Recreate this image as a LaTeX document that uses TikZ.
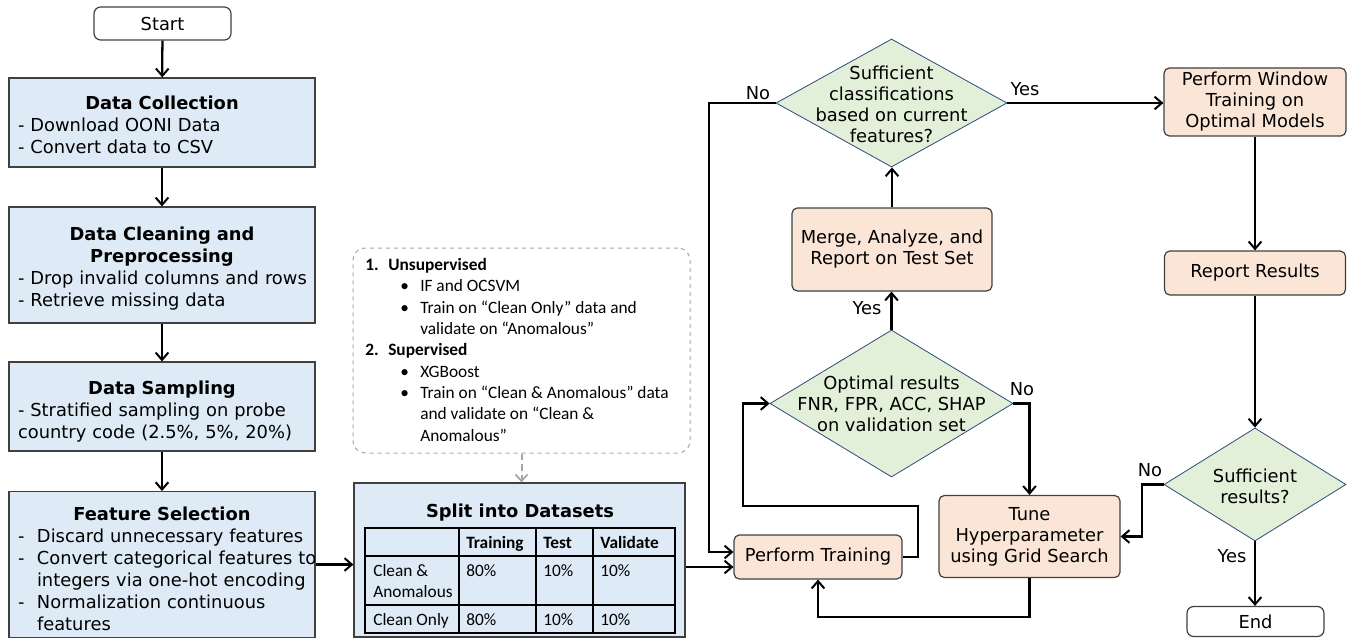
\documentclass[tikz,border=0pt]{standalone}
\usepackage{fontspec}
\setmainfont{DejaVu Sans}
\newfontfamily\calib{Carlito}
\usetikzlibrary{shapes.geometric,arrows.meta}
\definecolor{bluefill}{HTML}{DEEBF7}
\definecolor{orangefill}{HTML}{FBE5D6}
\definecolor{greenfill}{HTML}{E2F0D9}
\definecolor{boxline}{HTML}{404040}
\definecolor{dialine}{HTML}{2F4A7A}
\definecolor{dashgray}{HTML}{A6A6A6}
\begin{document}
\begin{tikzpicture}[x=0.75pt,y=-0.75pt,
  font=\fontsize{13.4}{16.2}\selectfont,
  bluebox/.style={draw=boxline,fill=bluefill,line width=0.9pt,inner xsep=6.75pt,inner ysep=0pt,text width=216pt,align=left,minimum width=229.5pt,font=\fontsize{13.4}{16.5}\selectfont},
  orbox/.style={draw=boxline,fill=orangefill,rounded corners=4pt,line width=0.9pt,align=center,inner sep=0pt,font=\fontsize{13.4}{15.75}\selectfont},
  term/.style={draw=boxline,fill=white,rounded corners=5pt,line width=0.9pt,minimum width=102.75pt,minimum height=24.75pt,inner sep=0pt},
  dia/.style={diamond,draw=dialine,fill=greenfill,line width=0.6pt,inner sep=0pt},
  diatext/.style={align=center,inner sep=0pt,font=\fontsize{13.4}{15.75}\selectfont},
  lbl/.style={inner sep=0pt},
  arr/.style={line width=1.7pt,-{Straight Barb[length=5.5pt,width=9.5pt,line width=1.5pt]}},
  cal/.style={font=\calib\fontsize{13}{16}\selectfont,inner sep=0pt,anchor=base west},
  grid/.style={line width=0.9pt,draw=black}
]
\useasboundingbox (0,0) rectangle (1348,638);

% helper coordinates
\coordinate (yA) at (0,567);
\coordinate (yB) at (0,552);
\coordinate (noX) at (709,0);
\coordinate (lx1) at (918,0);
\coordinate (ly1) at (0,506);
\coordinate (lx2) at (743,0);
\coordinate (ly2) at (0,617);
\coordinate (lx3) at (1142,0);

% left column
\node[term] (start) at (162.5,23.5) {Start};
\node[bluebox,minimum height=66.75pt] (dc) at (162,122.5)
  {{\centering\rule{0pt}{14.3pt}\bfseries Data Collection\par}\mbox{- Download OONI Data}\\\mbox{- Convert data to CSV}};
\node[bluebox,minimum height=87pt] (clean) at (162,265)
  {{\centering\rule{0pt}{15.8pt}\bfseries Data Cleaning and\\Preprocessing\par}\mbox{- Drop invalid columns and rows}\\\mbox{- Retrieve missing data}};
\node[bluebox,minimum height=66.75pt] (samp) at (162,406.5)
  {{\centering\rule{0pt}{17.3pt}\bfseries Data Sampling\par}\mbox{- Stratified sampling on probe}\\\mbox{country code (2.5\%, 5\%, 20\%)}};
\node[bluebox,minimum height=108.75pt] (feat) at (162,564.5)
  {{\centering\rule{0pt}{21.8pt}\bfseries Feature Selection\par}\begin{tabular}[t]{@{}p{14.25pt}@{}l@{}}
   -&Discard unnecessary features\\
   -&Convert categorical features to\\
   &integers via one-hot encoding\\
   -&Normalization continuous\\
   &features
   \end{tabular}};

% dashed note box
\node[draw=dashgray,dashed,line width=0.75pt,rounded corners=9pt,minimum width=252.75pt,minimum height=153.75pt,inner sep=0pt] (note) at (521.5,350.5) {};
\node[cal,anchor=north west,align=left] (notetext) at (365,258)
  {\makebox[17.25pt][l]{\bfseries 1.}\textbf{Unsupervised}\\
   \makebox[26.25pt]{}\makebox[15pt][l]{•}IF and OCSVM\\
   \makebox[26.25pt]{}\makebox[15pt][l]{•}Train on “Clean Only” data and\\
   \makebox[41.25pt]{}validate on “Anomalous”\\
   \makebox[17.25pt][l]{\bfseries 2.}\textbf{Supervised}\\
   \makebox[26.25pt]{}\makebox[15pt][l]{•}XGBoost\\
   \makebox[26.25pt]{}\makebox[15pt][l]{•}Train on “Clean \& Anomalous” data\\
   \makebox[41.25pt]{}and validate on “Clean \&\\
   \makebox[41.25pt]{}Anomalous”};

% split box with table
\node[draw=boxline,fill=bluefill,line width=0.9pt,minimum width=248.25pt,minimum height=115.5pt,inner sep=0pt] (split) at (519.5,560) {};
\node[inner sep=0pt,font=\fontsize{13.4}{16}\selectfont\bfseries] (splittitle) at (520,513) {Split into Datasets};
\draw[grid] (365,528) rectangle (675,633);
\draw[grid] (365,556) -- (675,556);
\draw[grid] (365,605) -- (675,605);
\draw[grid] (459,528) -- (459,633);
\draw[grid] (536,528) -- (536,633);
\draw[grid] (593,528) -- (593,633);
\node[cal] (h1) at (466,548) {\bfseries Training};
\node[cal] (h2) at (543,548) {\bfseries Test};
\node[cal] (h3) at (600,548) {\bfseries Validate};
\node[cal] (r1a) at (373,576) {Clean \&};
\node[cal] (r1b) at (373,597) {Anomalous};
\node[cal] (r1c) at (466,576) {80\%};
\node[cal] (r1d) at (543,576) {10\%};
\node[cal] (r1e) at (600,576) {10\%};
\node[cal] (r2a) at (373,625) {Clean Only};
\node[cal] (r2c) at (466,625) {80\%};
\node[cal] (r2d) at (543,625) {10\%};
\node[cal] (r2e) at (600,625) {10\%};

% middle column
\node[orbox,minimum width=126pt,minimum height=33pt] (train) at (818,557) {Perform Training};
\node[dia,minimum width=182.25pt,minimum height=110.25pt] (d2) at (891.5,403.5) {};
\node[diatext] (d2t) at (891.5,403.5) {Optimal results\\FNR, FPR, ACC, SHAP\\on validation set};
\node[orbox,minimum width=150pt,minimum height=62.25pt] (merge) at (892,249.5) {Merge, Analyze, and\\Report on Test Set};
\node[dia,minimum width=173.25pt,minimum height=96pt] (d1) at (891.5,103) {};
\node[diatext] (d1t) at (891.5,104) {Sufficient\\classifications\\based on current\\features?};
\node[orbox,minimum width=135.75pt,minimum height=61.5pt] (tune) at (1029.5,536.5) {Tune\\Hyperparameter\\using Grid Search};

% right column
\node[orbox,minimum width=136.5pt,minimum height=51pt] (pw) at (1255,102) {Perform Window\\Training on\\Optimal Models};
\node[orbox,minimum width=135.75pt,minimum height=33pt] (rr) at (1255,273) {Report Results};
\node[dia,minimum width=136.5pt,minimum height=84.75pt] (d3) at (1255,484.5) {};
\node[diatext] (d3t) at (1255,486) {Sufficient\\results?};
\node[term,minimum height=22.5pt] (end) at (1255.5,621.5) {End};

% labels
\node[lbl] (lno1) at (758,93) {No};
\node[lbl] (lyes1) at (1025,89) {Yes};
\node[lbl] (lyes2) at (867,308) {Yes};
\node[lbl] (lno2) at (1022,389) {No};
\node[lbl] (lno3) at (1150,470) {No};
\node[lbl] (lyes3) at (1232,556) {Yes};

% connectors
\draw[arr] (start) -- (dc);
\draw[arr] (dc) -- (clean);
\draw[arr] (clean) -- (samp);
\draw[arr] (samp) -- (feat);
\draw[arr] (feat.east) -- (feat.east -| split.west);
\draw[draw=dashgray,line width=1.5pt,dash pattern=on 5pt off 3pt,-{Straight Barb[length=5pt,width=9pt,line width=1.3pt]}] (note.south) -- (note.south |- split.north);
\draw[arr] (split.east |- yA) -- (train.west |- yA);
\draw[arr] (d1.west) -- (d1.west -| noX) -- (noX |- yB) -- (train.west |- yB);
\draw[arr] (d1.east) -- (d1.east -| pw.west);
\draw[arr] (train.east) -- (train.east -| lx1) -- (lx1 |- ly1) -- (lx2 |- ly1) -- (lx2 |- d2.west) -- (d2.west);
\draw[arr] (d2.north) -- (d2.north |- merge.south);
\draw[arr] (merge.north) -- (merge.north |- d1.south);
\draw[arr] (d2.east) -- (d2.east -| tune.north) -- (tune.north);
\draw[arr] (tune.south) -- (tune.south |- ly2) -- (train.south |- ly2) -- (train.south);
\draw[arr] (pw) -- (rr);
\draw[arr] (rr) -- (d3);
\draw[arr] (d3.west) -- (d3.west -| lx3) -- (lx3 |- tune.east) -- (tune.east);
\draw[arr] (d3.south) -- (d3.south |- end.north);
\end{tikzpicture}
\end{document}
